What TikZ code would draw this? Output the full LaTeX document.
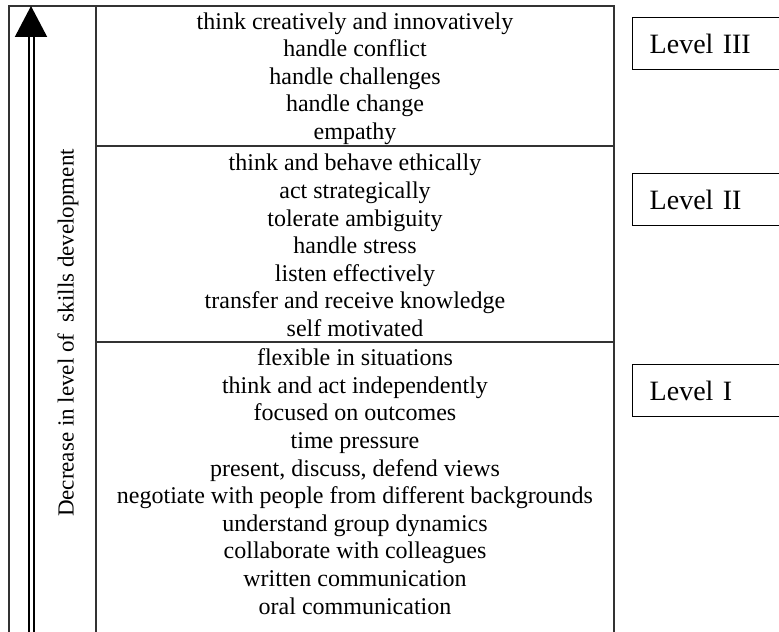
\documentclass[tikz,border=0pt]{standalone}
\usepackage{fontspec}
\setmainfont{Liberation Serif}
\usetikzlibrary{arrows.meta,positioning}

\begin{document}
\begin{tikzpicture}[x=0.5pt,y=-0.5pt,
   skl/.style={align=center,inner sep=0pt,font=\fontsize{12}{13.8}\selectfont},
   lvl/.style={draw,line width=0.7pt,anchor=north west,minimum height=26pt,text width=70pt,
               inner xsep=8.5pt,align=left,font=\fontsize{14}{17}\selectfont},
   frm/.style={draw=black!80,line width=0.75pt},
   up/.style={double,double distance=1.5pt,line width=1pt,-{Triangle[length=15.5pt,width=16pt]}}]
  \useasboundingbox (0,0) rectangle (779,631);
  % frame: axis strip and skills column
  \draw[frm] (9,640) -- (9,6) -- (614,6) -- (614,640);
  \draw[frm] (96,6) -- (96,640);
  \draw[frm] (96,146) -- (614,146);
  \draw[frm] (96,342) -- (614,342);
  % skills per level
  \node[skl] (s3) at (355,78.5) {think creatively and innovatively\\ handle conflict\\ handle challenges\\
     handle change\\ empathy};
  \node[skl] (s2) at (355,245.5) {think and behave ethically\\ act strategically\\ tolerate ambiguity\\
     handle stress\\ listen effectively\\ transfer and receive knowledge\\ self motivated};
  \node[skl] (s1) at (355,481.5) {flexible in situations\\ think and act independently\\ focused on outcomes\\
     time pressure\\ present, discuss, defend views\\ negotiate with people from different backgrounds\\
     understand group dynamics\\ collaborate with colleagues\\ written communication\\ oral communication};
  % level labels
  \node[lvl] (l3) at (632,17)  {Level III};
  \node[lvl] (l2) at (632,173) {Level II};
  \node[lvl] (l1) at (632,364) {Level I};
  % axis arrow and its label
  \coordinate (abot) at (31,640);
  \coordinate (atop) at (31,6);
  \draw[up] (abot) -- (atop);
  \node[rotate=90,inner sep=0pt,font=\fontsize{11.5}{13.8}\selectfont] (ax) at (68,333)
     {Decrease in level of~~skills development};
\end{tikzpicture}
\end{document}
